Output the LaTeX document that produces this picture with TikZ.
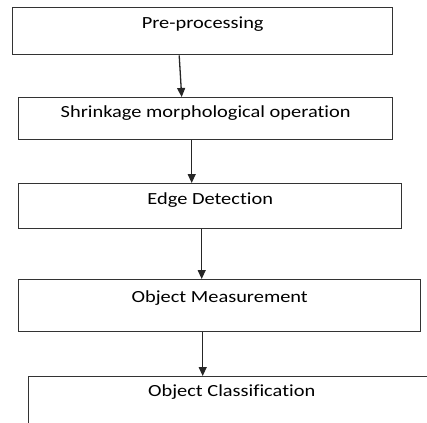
\documentclass[tikz,border=0pt]{standalone}
\usepackage{fontspec}
\setmainfont{Carlito}[FakeStretch=1.2, Ligatures=NoCommon]
\usepackage{tikz}
\usetikzlibrary{shapes.geometric, arrows.meta, positioning, calc}

\begin{document}
\begin{tikzpicture}[x=1bp, y=-1bp,
  box/.style={draw=black!80, line width=1.4bp, inner sep=0pt, anchor=north west,
    font=\fontsize{17bp}{20bp}\selectfont},
  flow/.style={-{Triangle[length=9bp,width=8bp]}, line width=1.3bp, draw=black!85}]
\useasboundingbox (0,0) rectangle (427,423);
\clip (0,0) rectangle (427,423);

% Steps
\node[box, minimum width=380bp, text height=21bp, text depth=26bp] (pre) at (12,7) {Pre-processing};
\node[box, minimum width=374bp, text height=20bp, text depth=22bp] (shrink) at (18,97) {Shrinkage morphological operation};
\node[box, minimum width=383bp, text height=20.5bp, text depth=24.5bp] (edge) at (18,183) {Edge Detection};
\node[box, minimum width=402bp, text height=22.5bp, text depth=29.5bp] (measure) at (18,279) {Object Measurement};
\node[box, minimum width=406bp, text height=19.5bp, text depth=40bp] (classify) at (28,376) {Object Classification};

% Arrows between steps
\draw[flow] ([xshift=-23.5bp]pre.south) -- ([xshift=-24bp]shrink.north);
\draw[flow] ([xshift=-14bp]shrink.south) -- ([xshift=-14bp]shrink.south |- edge.north);
\draw[flow] ([xshift=-8.5bp]edge.south) -- ([xshift=-8.5bp]edge.south |- measure.north);
\draw[flow] ([xshift=-17bp]measure.south) -- ([xshift=-17bp]measure.south |- classify.north);
\end{tikzpicture}
\end{document}
